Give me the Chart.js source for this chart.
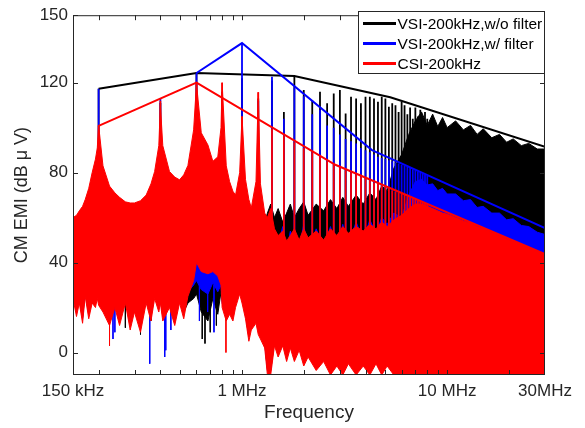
<!DOCTYPE html>
<html>
<head>
<meta charset="utf-8">
<script src="https://cdn.jsdelivr.net/npm/chart.js@4.4.0/dist/chart.umd.min.js"></script>
<style>
  html, body { margin: 0; padding: 0; background: #fff; }
  canvas { display: block; }
</style>
</head>
<body>
<canvas id="chart" width="585" height="428"></canvas>
<script>
// frequency grid (MHz) for the filled parts of the spectra
var freqMHz = [
  0.150, 0.156, 0.161, 0.167, 0.172, 0.179, 0.186, 0.193, 0.197, 0.200,
  0.210, 0.226, 0.240, 0.253, 0.270, 0.285, 0.299, 0.320, 0.341, 0.360,
  0.375, 0.393, 0.400, 0.411, 0.443, 0.470, 0.496, 0.520, 0.545, 0.581,
  0.600, 0.633, 0.682, 0.721, 0.762, 0.790, 0.800, 0.838, 0.870, 0.903,
  0.930, 0.974, 1.000, 1.040, 1.080, 1.110, 1.170, 1.200, 1.230, 1.290,
  1.330, 1.380, 1.440, 1.500, 1.580, 1.650, 1.720, 1.800, 1.900, 2.000,
  2.100, 2.300, 2.500, 2.700, 2.900, 3.100, 3.300, 3.600, 3.900, 4.200,
  4.500, 4.800, 5.100, 5.500, 6.000, 6.500,
  7.0, 7.5, 8.0, 8.5, 9.0, 9.5, 10, 11, 12, 13,
  14, 15, 16.5, 18, 19.5, 21, 23, 25, 27.5, 30
];

// CSI-200kHz: upper and lower edge of the red band (dBuV)
var redTop = [
  60, 61, 63, 65, 68, 73, 80, 86, 91, 101,
  83, 74, 71, 69, 67, 66.5, 66.5, 67.5, 70, 75,
  80.5, 92, 110, 92, 80.5, 78, 76.8, 79, 83.2, 99,
  119.6, 97.7, 92.3, 85, 87, 100, 120, 83, 76, 71.7,
  70, 80, 105, 77, 68, 64.3, 76, 115.7, 75, 62,
  60, 64, 55, 52, 54, 49.6, 52, 55, 50, 55,
  51, 54, 50, 55, 52, 56, 53, 56, 54, 57,
  55, 58, 56, 59, 61, 64,
  66, 66, 65, 64, 63, 62, 61.5, 60, 58.5, 57.5,
  56, 55, 53.5, 52, 50.5, 49.5, 48, 46.5, 45, 43.5
];
var redLow = [
  24, 16, 22, 13, 25, 15, 22, 20, 24, 21,
  18, 12, 20, 12, 22, 10, 18, 9, 22, 14,
  24, 18, 22, 14, 20, 12, 22, 15, 25, 32,
  40, 36, 35, 36, 34, 30, 20, 14, 17, 14,
  20, 26, 22, 15, 5, 10, 13, 8, 6, 2,
  -10, -10, 3, -2, 3, -4, 2, -4, 1, -6,
  -2, -8, -4, -10, -6, -10, -5, -10, -6, -10,
  -5, -10, -6, -10, -10, -10,
  -10, -10, -10, -10, -10, -10, -10, -10, -10, -10,
  -10, -10, -10, -10, -10, -10, -10, -10, -10, -10
];

// VSI-200kHz, w/ filter
var blueTop = [
  45, 45, 45, 45, 45, 45, 45, 45, 45, 45,
  45, 45, 45, 45, 45, 45, 45, 45, 45, 45,
  45, 45, 45, 45, 45, 45, 45, 45, 45, 45,
  48, 48, 48, 48, 48, 48, 45, 45, 45, 45,
  45, 45, 45, 45, 45, 45, 45, 45, 50, 54,
  55, 58, 52, 48, 56, 44, 54, 50, 46, 57,
  44, 55, 47, 56, 45, 57, 48, 58, 50, 59,
  53, 60, 57, 62, 60, 70,
  76, 77, 74.5, 75, 72, 73, 70.5, 70.5, 67.5, 68,
  64.5, 65, 62, 62, 59, 59.5, 56.5, 56, 53.5, 52.5
];
var blueLow = [
  26, 18, 24, 15, 27, 17, 24, 22, 26, 23,
  20, 14, 22, 14, 24, 12, 20, 11, 24, 16,
  26, 20, 24, 16, 22, 14, 24, 17, 27, 30,
  32, 28, 26, 31, 27, 30, 22, 16, 19, 16,
  22, 28, 24, 17, 7, 12, 15, 10, 8, 4,
  -8, -8, 5, 0, 5, -2, 4, -2, 3, -4,
  0, -6, -2, -8, -4, -8, -3, -8, -4, -8,
  -3, -8, -4, -8, -8, -8,
  -8, -8, -8, -8, -8, -8, -8, -8, -8, -8,
  -8, -8, -8, -8, -8, -8, -8, -8, -8, -8
];

// VSI-200kHz, w/o filter
var blackTop = [
  45, 45, 45, 45, 45, 45, 45, 45, 45, 45,
  45, 45, 45, 45, 45, 45, 45, 45, 45, 45,
  45, 45, 45, 45, 45, 45, 45, 45, 45, 45,
  47, 47, 47, 47, 47, 47, 45, 45, 45, 45,
  45, 45, 45, 45, 45, 45, 45, 45, 52, 58,
  62, 66, 60, 64, 58, 62, 66, 60, 64, 67,
  61, 66, 63, 68, 64, 69, 65, 70, 66, 71,
  68, 74, 72, 82, 88, 97,
  103, 107, 101, 106, 100.5, 104.5, 100, 103, 99, 101,
  97, 99.5, 95.5, 97, 93.5, 95, 92, 93, 90.5, 90.5
];
var blackLow = [
  27, 19, 25, 16, 28, 18, 25, 23, 27, 24,
  21, 15, 23, 15, 25, 13, 21, 12, 25, 17,
  27, 21, 25, 17, 23, 15, 25, 18, 22, 24,
  26, 18, 14, 24, 17, 27, 23, 17, 20, 17,
  23, 29, 25, 18, 8, 13, 16, 11, 9, 5,
  -7, -7, 6, 1, 6, -1, 5, -1, 4, -3,
  1, -5, -1, -7, -3, -7, -2, -7, -3, -7,
  -2, -7, -3, -7, -7, -7,
  -7, -7, -7, -7, -7, -7, -7, -7, -7, -7,
  -7, -7, -7, -7, -7, -7, -7, -7, -7, -7
];

// harmonics of the 200 kHz switching frequency (MHz) and their peaks
var harmMHz = [
  0.2, 0.4, 0.6, 0.8, 1.0, 1.2, 1.4, 1.6, 1.8, 2.0,
  2.2, 2.4, 2.6, 2.8, 3.0, 3.2, 3.4, 3.6, 3.8, 4.0,
  4.2, 4.4, 4.6, 4.8, 5.0, 5.2, 5.4, 5.6, 5.8, 6.0,
  6.2, 6.4, 6.6, 6.8, 7.0, 7.2, 7.4, 7.6, 7.8, 8.0
];
var blackPeak = [
  117.3, 111, 124.3, 116, 122, 113, 121, 107, 123, 116.7,
  112.3, 116, 110.8, 115.2, 116.7, 106.3, 113.7, 113, 110.8, 113.7,
  113.7, 113, 111.5, 113.7, 113, 109.3, 110.8, 110, 107, 111.5,
  110, 106, 109, 104, 109, 105, 108, 103, 107, 104
];
var bluePeak = [
  117.3, 113, 124.3, 110, 137.6, 112, 122.6, 104, 118, 114,
  106, 108, 101, 100, 97, 95, 94, 93, 91, 90,
  89, 88, 87, 86.5, 86, 85.5, 85, 84.5, 84, 83.5,
  83, 82.5, 82, 81.5, 81, 80.5, 80, 79.5, 79, 78.5
];
var redPeak = [
  101, 112, 119.6, 120, 105, 115.7, 99.5, 96.5, 93.5, 91,
  89, 87, 85, 83.5, 82, 81, 80, 79, 78, 77.5,
  76.5, 75.5, 75, 74, 73.5, 73, 72, 71.5, 71, 70.5,
  70, 69.5, 69, 68.5, 68, 67.5, 67, 66.8, 66.5, 66
];
var spikeBase = 45;

// deep notches in the noise floor
var redDipF = [0.226, 0.835];
var redDipV = [3, 0];
var blueDipF = [0.235, 0.24, 0.355, 0.42, 0.425, 0.45, 0.62, 0.68, 0.73];
var blueDipV = [6, 9, -5, -2, 1, 10, 14, 18, 9];
var blackDipF = [0.27, 0.32, 0.36, 0.64, 0.66, 0.70, 0.75];
var blackDipV = [11, 8, 14, 6, 4, 9, 12];
var dipTop = 30;

// straight lines joining the harmonic peaks
var blackEnvF = [0.2, 0.6, 1.8, 5.28, 30];
var blackEnvV = [117.3, 124.3, 123, 113.5, 91.5];
var blueEnvF = [0.6, 1.0, 4.3, 30];
var blueEnvV = [124.3, 137.6, 90, 55.3];
var redEnvF = [0.2, 0.6, 2.85, 30];
var redEnvV = [100.8, 120, 83.5, 43.8];

var xTicks = [0.15, 1, 10, 30];
var xTickLabels = ['150 kHz', '1 MHz', '10 MHz', '30MHz'];
var xTickMarks = [0.2, 0.3, 0.4, 0.5, 0.6, 0.7, 0.8, 0.9, 1, 2, 3, 4, 5, 6, 7, 8, 9, 10, 20];
var yTicks = [0, 40, 80, 120, 150];

var legendItems = [
  { label: 'VSI-200kHz,w/o filter', color: '#000000' },
  { label: 'VSI-200kHz,w/ filter', color: '#0000ff' },
  { label: 'CSI-200kHz', color: '#ff0000' }
];

var FONT = "'Liberation Sans', Arial, Helvetica, sans-serif";
var INK = '#262626';

function pts(xs, ys) {
  return xs.map(function (x, i) { return { x: x, y: ys[i] }; });
}

// vertical strokes from a base value to each value, split by nulls
function strokes(xs, base, ys) {
  var out = [];
  xs.forEach(function (x, i) {
    out.push({ x: x, y: base }, { x: x, y: ys[i] }, { x: x, y: null });
  });
  return out;
}

function line(data, color, width) {
  return {
    data: data,
    showLine: true,
    borderColor: color,
    backgroundColor: color,
    borderWidth: width,
    pointRadius: 0,
    pointHoverRadius: 0,
    fill: false,
    spanGaps: false,
    tension: 0
  };
}

// first dataset is drawn last, so red goes first
var series = [
  { color: '#ff0000', top: redTop, low: redLow, peak: redPeak, dipF: redDipF, dipV: redDipV, envF: redEnvF, envV: redEnvV },
  { color: '#0000ff', top: blueTop, low: blueLow, peak: bluePeak, dipF: blueDipF, dipV: blueDipV, envF: blueEnvF, envV: blueEnvV },
  { color: '#000000', top: blackTop, low: blackLow, peak: blackPeak, dipF: blackDipF, dipV: blackDipV, envF: blackEnvF, envV: blackEnvV }
];

var datasets = [];
series.forEach(function (s) {
  var n = datasets.length;
  datasets.push(line(pts(s.envF, s.envV), s.color, 2));
  datasets.push(line(strokes(harmMHz, spikeBase, s.peak), s.color, 1.8));
  datasets.push(line(strokes(s.dipF, dipTop, s.dipV), s.color, 1));
  var top = line(pts(freqMHz, s.top), s.color, 1);
  top.fill = { target: n + 4, above: s.color, below: s.color };
  datasets.push(top);
  datasets.push(line(pts(freqMHz, s.low), s.color, 1));
});

var framePlugin = {
  id: 'frame',
  afterDraw: function (chart) {
    var ctx = chart.ctx, a = chart.chartArea;
    var sx = chart.scales.x, sy = chart.scales.y;
    ctx.save();
    ctx.strokeStyle = INK;
    ctx.lineWidth = 1;
    ctx.strokeRect(a.left + 0.5, a.top + 0.5, a.right - a.left - 1, a.bottom - a.top - 1);
    ctx.beginPath();
    xTickMarks.forEach(function (v) {
      var x = Math.round(sx.getPixelForValue(v)) + 0.5;
      ctx.moveTo(x, a.bottom); ctx.lineTo(x, a.bottom - 5);
      ctx.moveTo(x, a.top); ctx.lineTo(x, a.top + 5);
    });
    yTicks.forEach(function (v) {
      var y = Math.round(sy.getPixelForValue(v)) + 0.5;
      ctx.moveTo(a.left, y); ctx.lineTo(a.left + 5, y);
      ctx.moveTo(a.right, y); ctx.lineTo(a.right - 5, y);
    });
    ctx.stroke();

    // legend box in the upper right corner
    var bx = 358.5, by = 11.5, bw = 186, bh = 62;
    ctx.fillStyle = '#ffffff';
    ctx.fillRect(bx, by, bw, bh);
    ctx.strokeRect(bx, by, bw, bh);
    ctx.font = '15.5px ' + FONT;
    ctx.textBaseline = 'middle';
    ctx.textAlign = 'left';
    legendItems.forEach(function (item, i) {
      var y = 23.5 + i * 20;
      ctx.strokeStyle = item.color;
      ctx.lineWidth = 3;
      ctx.beginPath();
      ctx.moveTo(363, y); ctx.lineTo(396, y);
      ctx.stroke();
      ctx.fillStyle = '#000000';
      ctx.fillText(item.label, 397.5, y + 1);
    });
    ctx.restore();
  }
};

Chart.defaults.font.family = FONT;
Chart.defaults.color = INK;

var ctx = document.getElementById('chart').getContext('2d');
var myChart = new Chart(ctx, {
  type: 'scatter',
  data: { datasets: datasets },
  options: {
    responsive: false,
    animation: false,
    events: [],
    layout: { padding: { left: 0, right: 40, top: 13, bottom: 0 } },
    plugins: {
      legend: { display: false },
      tooltip: { enabled: false }
    },
    scales: {
      x: {
        type: 'logarithmic',
        min: 0.15,
        max: 30,
        afterBuildTicks: function (scale) {
          scale.ticks = xTicks.map(function (v) { return { value: v }; });
        },
        afterFit: function (scale) { scale.height = 53; },
        ticks: {
          autoSkip: false,
          maxRotation: 0,
          padding: 6,
          color: INK,
          font: { size: 17 },
          callback: function (value, index) { return xTickLabels[index]; }
        },
        grid: { display: false, drawTicks: false },
        border: { display: false },
        title: {
          display: true,
          text: 'Frequency',
          color: INK,
          font: { size: 19 },
          padding: { top: 0, bottom: 4 }
        }
      },
      y: {
        type: 'linear',
        min: -10,
        max: 150,
        afterBuildTicks: function (scale) {
          scale.ticks = yTicks.map(function (v) { return { value: v }; });
        },
        afterFit: function (scale) { scale.width = 73; },
        ticks: {
          padding: 5,
          color: INK,
          font: { size: 17 }
        },
        grid: { display: false, drawTicks: false },
        border: { display: false },
        title: {
          display: true,
          text: 'CM EMI (dB \u03bc V)',
          color: INK,
          font: { size: 18 },
          padding: { top: 11, bottom: 0 }
        }
      }
    }
  },
  plugins: [framePlugin]
});
</script>
</body>
</html>
